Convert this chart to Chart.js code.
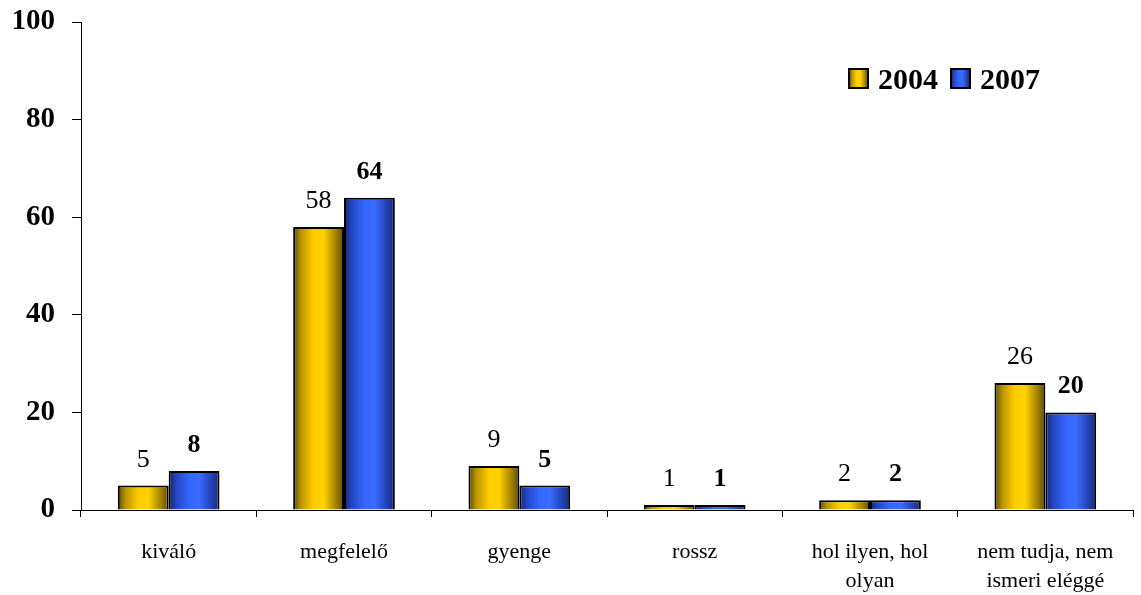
<!DOCTYPE html>
<html lang="hu">
<head>
<meta charset="utf-8">
<title>Értékelés 2004 / 2007</title>
<script src="https://cdn.jsdelivr.net/npm/chart.js@4.4.1/dist/chart.umd.min.js"></script>
<style>
  html, body { margin: 0; padding: 0; background: #fff; }
  #wrap { width: 1141px; height: 595px; }
</style>
</head>
<body>
<div id="wrap"><canvas id="chart"></canvas></div>
<script>
// ===== Data =====
const categories = [
  "kiváló",
  "megfelelő",
  "gyenge",
  "rossz",
  ["hol ilyen, hol", "olyan"],
  ["nem tudja, nem", "ismeri eléggé"],
];
const seriesNames = ["2004", "2007"];
const values2004 = [5, 58, 9, 1, 2, 26];
const values2007 = [8, 64, 5, 1, 2, 20];
const yTicks = [0, 20, 40, 60, 80, 100];

const FONT = "'Liberation Serif', 'Times New Roman', serif";
const CAT_PCT = 0.58;

// dark edges, bright middle (like the old Excel cylinder-ish fill)
const palettes = [
  ["#5a4a00", "#b89400", "#ffcc00", "#ffd200", "#a08000", "#5e4c00"],
  ["#14246e", "#2446c0", "#3366ff", "#3a6cff", "#2340b0", "#172a78"],
];

function makeGradient(c, left, width, pal) {
  const g = c.createLinearGradient(left, 0, left + width, 0);
  g.addColorStop(0, pal[0]);
  g.addColorStop(0.15, pal[1]);
  g.addColorStop(0.4, pal[2]);
  g.addColorStop(0.6, pal[3]);
  g.addColorStop(0.85, pal[4]);
  g.addColorStop(1, pal[5]);
  return g;
}

function barFill(ctx) {
  const pal = palettes[ctx.datasetIndex];
  const x = ctx.chart.scales.x;
  if (!x || ctx.dataIndex === undefined) return pal[2];
  const center = x.getPixelForValue(ctx.dataIndex);
  const bw = (x.width / categories.length) * CAT_PCT / 2;
  if (!Number.isFinite(center) || !Number.isFinite(bw) || bw <= 0) return pal[2];
  const left = ctx.datasetIndex === 0 ? center - bw : center;
  return makeGradient(ctx.chart.ctx, left, bw, pal);
}

// ===== Plugins =====
const valueLabels = {
  id: "valueLabels",
  afterDatasetsDraw(chart) {
    const c = chart.ctx;
    c.save();
    c.fillStyle = "#000";
    c.textAlign = "center";
    c.textBaseline = "alphabetic";
    chart.data.datasets.forEach((ds, di) => {
      c.font = (di === 1 ? "bold " : "") + "26px " + FONT;
      chart.getDatasetMeta(di).data.forEach((el, i) => {
        c.fillText(String(ds.data[i]), el.x, el.y - 19);
      });
    });
    c.restore();
  },
};

const boxLegend = {
  id: "boxLegend",
  afterDraw(chart) {
    const c = chart.ctx;
    const a = chart.chartArea;
    let x = a.right - 284;
    const top = a.top + 47;
    c.save();
    c.font = "bold 30px " + FONT;
    c.textBaseline = "alphabetic";
    c.textAlign = "left";
    seriesNames.forEach((name, i) => {
      c.fillStyle = makeGradient(c, x, 19, palettes[i]);
      c.fillRect(x, top, 19, 19);
      c.lineWidth = 2;
      c.strokeStyle = "#000";
      c.strokeRect(x, top, 19, 19);
      c.fillStyle = "#000";
      c.fillText(name, x + 29, top + 20);
      x += 29 + c.measureText(name).width + 13;
    });
    c.restore();
  },
};

// ===== Chart =====
new Chart(document.getElementById("chart"), {
  type: "bar",
  data: {
    labels: categories,
    datasets: [
      {
        label: seriesNames[0],
        data: values2004,
        backgroundColor: barFill,
        borderColor: "#000",
        borderWidth: 2,
        categoryPercentage: CAT_PCT,
        barPercentage: 1,
      },
      {
        label: seriesNames[1],
        data: values2007,
        backgroundColor: barFill,
        borderColor: "#000",
        borderWidth: 2,
        categoryPercentage: CAT_PCT,
        barPercentage: 1,
      },
    ],
  },
  options: {
    responsive: true,
    maintainAspectRatio: false,
    animation: false,
    layout: { padding: { top: 22, right: 8, bottom: 0, left: 0 } },
    plugins: {
      legend: { display: false },
      tooltip: { enabled: false },
    },
    scales: {
      x: {
        grid: {
          drawOnChartArea: false,
          tickLength: 7,
          color: "#000",
          offset: true,
        },
        border: { color: "#000", width: 1 },
        ticks: {
          color: "#000",
          font: { family: FONT, size: 22, lineHeight: 1.32 },
          padding: 21,
          maxRotation: 0,
          autoSkip: false,
        },
        afterFit(scale) { scale.height = 85; },
      },
      y: {
        min: 0,
        max: 100,
        afterBuildTicks(scale) {
          scale.ticks = yTicks.map((v) => ({ value: v }));
        },
        grid: {
          drawOnChartArea: false,
          tickLength: 9,
          color: "#000",
        },
        border: { color: "#000", width: 1 },
        ticks: {
          color: "#000",
          font: { family: FONT, size: 29, weight: "bold" },
          padding: 17,
        },
        afterFit(scale) {
          scale.width = 81;
          scale.paddingTop = 0;
          scale.paddingBottom = 0;
        },
      },
    },
  },
  plugins: [valueLabels, boxLegend],
});
</script>
</body>
</html>
